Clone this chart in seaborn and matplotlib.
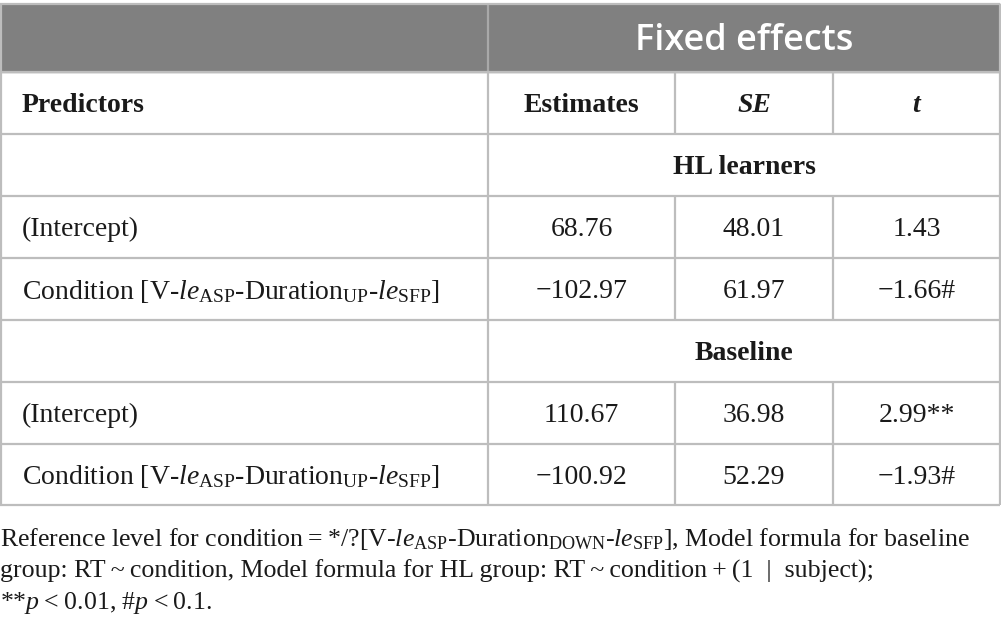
import matplotlib
matplotlib.use("Agg")
import matplotlib.pyplot as plt
import seaborn as sns
from matplotlib.patches import Rectangle

# ---- data ----
header_title = "Fixed effects"
col_labels = ["Predictors", "Estimates", "SE", "t"]
group_labels = ["HL learners", "Baseline"]
predictors = ["(Intercept)",
              r"Condition [V-$\mathit{le}_{\mathrm{ASP}}$-Duration$_{\mathrm{UP}}$-$\mathit{le}_{\mathrm{SFP}}$]"]
hl_estimates = ["68.76", "\u2212102.97"]
hl_se = ["48.01", "61.97"]
hl_t = ["1.43", "\u22121.66#"]
base_estimates = ["110.67", "\u2212100.92"]
base_se = ["36.98", "52.29"]
base_t = ["2.99**", "\u22121.93#"]
TS = "\u2009"
footnote = [
    "Reference level for condition" + TS + "=" + TS + "*/?[V-" + r"$\mathit{le}_{\mathrm{ASP}}$-Duration$_{\mathrm{DOWN}}$-$\mathit{le}_{\mathrm{SFP}}$]" + ", Model formula for baseline",
    "group: RT" + TS + "~" + TS + "condition, Model formula for HL group: RT" + TS + "~" + TS + "condition" + TS + "+" + TS + "(1  |  subject);",
    "**" + r"$\mathit{p}$" + TS + "<" + TS + "0.01, #" + r"$\mathit{p}$" + TS + "<" + TS + "0.1.",
]

sns.set_theme(style="white")
plt.rcParams["font.family"] = ["Liberation Serif", "DejaVu Serif"]
plt.rcParams["mathtext.fontset"] = "custom"
plt.rcParams["mathtext.rm"] = "Liberation Serif"
plt.rcParams["mathtext.it"] = "Liberation Serif:italic"
plt.rcParams["mathtext.bf"] = "Liberation Serif:bold"

W, H = 1001, 634
fig = plt.figure(figsize=(W / 100, H / 100), dpi=100)
ax = fig.add_axes([0, 0, 1, 1])
ax.set_xlim(0, W)
ax.set_ylim(H, 0)
ax.axis("off")

# layout
col_x = [0, 488, 675, 833, 1000]
rows = [4, 72, 134, 196, 258, 320, 382, 444, 505]
line_c = "#bdbdbd"
lw = 1.6
txt_c = "#1a1a1a"
fs = 20
fs_note = 18.6
dy = 2.5

# header band
ax.add_patch(Rectangle((0, rows[0]), W, rows[1] - rows[0], color="#808080", zorder=0))
ax.vlines(col_x[1], rows[0], rows[1], color="#a9a9a9", lw=lw)
ax.text((col_x[1] + col_x[4]) / 2, (rows[0] + rows[1]) / 2 + 3, header_title,
        family="Open Sans", weight="semibold", color="white", fontsize=26,
        ha="center", va="center")

# horizontal lines
for y in rows[1:]:
    ax.hlines(y, 0, col_x[4], color=line_c, lw=lw)
ax.hlines(rows[0], 0, col_x[4], color="#bdbdbd", lw=lw)
# outer borders
ax.vlines([col_x[0] + 0.8, col_x[4]], rows[0], rows[-1], color=line_c, lw=lw)
ax.vlines(col_x[1], rows[1], rows[-1], color=line_c, lw=lw)
# internal column lines (not in group rows)
for (a, b) in [(1, 2), (3, 5), (6, 8)]:
    ax.vlines(col_x[2:4], rows[a], rows[b], color=line_c, lw=lw)

centers = [(col_x[i] + col_x[i + 1]) / 2 for i in range(4)]
def ymid(i):
    return (rows[i] + rows[i + 1]) / 2 + dy

# column header row
ax.text(22, ymid(1), col_labels[0], weight="bold", fontsize=fs, color=txt_c, ha="left", va="center")
ax.text(centers[1], ymid(1), col_labels[1], weight="bold", fontsize=fs, color=txt_c, ha="center", va="center")
ax.text(centers[2], ymid(1), col_labels[2], weight="bold", style="italic", fontsize=fs, color=txt_c, ha="center", va="center")
ax.text(centers[3], ymid(1), col_labels[3], weight="bold", style="italic", fontsize=fs, color=txt_c, ha="center", va="center")

groups = [(group_labels[0], hl_estimates, hl_se, hl_t, 2),
          (group_labels[1], base_estimates, base_se, base_t, 5)]
for label, est, se, tv, r0 in groups:
    ax.text((col_x[1] + col_x[4]) / 2, ymid(r0), label, weight="bold", fontsize=fs,
            color=txt_c, ha="center", va="center")
    for k in range(2):
        yy = ymid(r0 + 1 + k)
        ax.text(22, yy, predictors[k], fontsize=fs, color=txt_c, ha="left", va="center")
        ax.text(centers[1], yy, est[k], fontsize=fs, color=txt_c, ha="center", va="center")
        ax.text(centers[2], yy, se[k], fontsize=fs, color=txt_c, ha="center", va="center")
        ax.text(centers[3], yy, tv[k], fontsize=fs, color=txt_c, ha="center", va="center")

for i, line in enumerate(footnote):
    ax.text(0, 539 + i * 32, line, fontsize=fs_note, color=txt_c, ha="left", va="center")

fig.savefig("out.png", dpi=100, facecolor="white")
